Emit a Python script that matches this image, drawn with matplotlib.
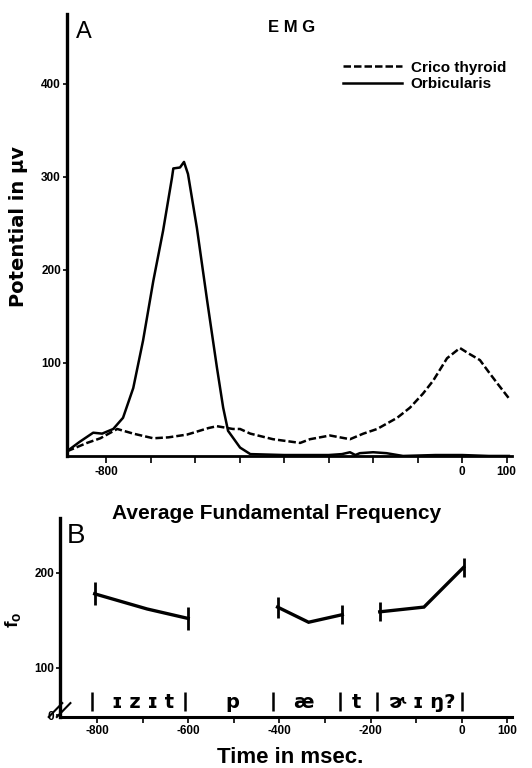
import matplotlib
matplotlib.use("Agg")
import matplotlib.pyplot as plt

plt.rcParams['font.family'] = ['Liberation Sans', 'DejaVu Sans']

# Panel A: EMG (time in msec, potential in microvolts)
crico_t = [-888, -843, -813, -775, -739, -694, -660, -618, -604, -570, -551, -515, -499, -476, -425,
           -364, -342, -297, -252, -222, -191, -146, -117, -88, -65, -34, -5, 15, 33, 40, 60, 79, 105]
crico_v = [5, 14, 19, 29, 24, 19, 20, 23, 25, 30, 32, 29, 29, 24, 18,
           14, 18, 22, 18, 24, 29, 41, 52, 67, 81, 105, 116, 110, 105, 103, 90, 78, 62]

orb_t = [-888, -860, -829, -809, -784, -762, -739, -717, -694, -672, -652, -649, -634, -625, -616,
         -596, -573, -551, -537, -526, -499, -476, -400, -300, -270, -252, -240, -230, -200, -170,
         -133, -60, 0, 60, 105]
orb_v = [5, 15, 25, 24, 29, 41, 73, 124, 188, 242, 299, 309, 310, 316, 303,
         245, 167, 95, 52, 27, 9, 2, 1, 1, 2, 4, 1, 3, 4, 3,
         0, 1, 1, 0, 0]

a_xticks = [-800, -700, -600, -500, -400, -300, -200, -100, 0, 100]
a_xlabels = ['-800', '', '', '', '', '', '', '', '0', '100']
a_yticks = [100, 200, 300, 400]

# Panel B: average fundamental frequency, three voiced stretches
f0_t = [[-805, -690, -600], [-404, -336, -262], [-180, -83, 4]]
f0_v = [[178, 162, 152], [164, 148, 156], [159, 164, 206]]
f0_err = [[12, 12], [11, 10], [10, 10]]

b_xticks = [-800, -700, -600, -500, -400, -300, -200, -100, 0, 100]
b_xlabels = ['-800', '', '-600', '', '-400', '', '-200', '', '0', '100']
b_yticks = [50, 100, 200]
b_ylabels = ['0', '100', '200']

seg_bounds = [-811, -607, -414, -267, -186, 0]
seg_labels = ['ɪ z ɪ t', 'p', 'æ', 't', 'ɚ ɪ ŋ?']
seg_pos = [-699, -504, -348, -230, -87]

fig = plt.figure(figsize=(5.32, 7.68), dpi=100)

# ---- Panel A
ax = fig.add_axes([0.125, 0.4063, 0.8374, 0.5755])
ax.plot(crico_t, crico_v, color='black', lw=1.8, ls=(0, (3, 1.2)), label='Crico thyroid')
ax.plot(orb_t, orb_v, color='black', lw=1.8, label='Orbicularis')
ax.set_xlim(-889, 112)
ax.set_ylim(0, 475)
for s in ['top', 'right']:
    ax.spines[s].set_visible(False)
ax.spines['left'].set_linewidth(2.4)
ax.spines['bottom'].set_linewidth(2.0)
ax.set_xticks(a_xticks)
ax.set_xticklabels(a_xlabels, fontsize=8.5, fontweight='bold')
ax.set_yticks(a_yticks)
ax.set_yticklabels([str(v) for v in a_yticks], fontsize=8.5, fontweight='bold')
ax.tick_params(axis='x', direction='out', length=5, width=1.2, pad=2)
ax.tick_params(axis='y', direction='out', length=3, width=1.2, pad=1)
ax.text(0.021, 0.985, 'A', transform=ax.transAxes, fontsize=17, va='top', ha='left')
ax.text(0.506, 0.97, 'E M G', transform=ax.transAxes, fontsize=12, fontweight='bold',
        va='center', ha='center')
ax.set_ylabel('Potential in μv', fontsize=14, fontweight='bold', family=['DejaVu Sans'])
ax.yaxis.set_label_coords(-0.086, 0.52)
ax.legend(loc='upper left', bbox_to_anchor=(0.62, 0.894), frameon=False,
          prop={'weight': 'bold', 'size': 11}, handlelength=3.9, handletextpad=0.55,
          labelspacing=0.15, borderpad=0, borderaxespad=0)

# ---- Panel B
bx = fig.add_axes([0.1128, 0.0664, 0.8496, 0.2591])
for t, v, e in zip(f0_t, f0_v, f0_err):
    bx.plot(t, v, color='black', lw=2.4, solid_joinstyle='miter')
    bx.vlines([t[0], t[-1]], [v[0] - e[0], v[-1] - e[1]], [v[0] + e[0], v[-1] + e[1]],
              color='black', lw=2.0)
bx.vlines(seg_bounds, 54, 74, color='black', lw=1.8)
for lab, p in zip(seg_labels, seg_pos):
    bx.text(p, 63, lab, fontsize=14, fontweight='bold', ha='center', va='center',
            family=['DejaVu Sans'])
bx.set_xlim(-881, 110)
bx.set_ylim(48, 258)
for s in ['top', 'right']:
    bx.spines[s].set_visible(False)
bx.spines['left'].set_linewidth(2.4)
bx.spines['bottom'].set_linewidth(2.2)
bx.set_xticks(b_xticks)
bx.set_xticklabels(b_xlabels, fontsize=8.5, fontweight='bold')
bx.set_yticks(b_yticks)
bx.set_yticklabels(b_ylabels, fontsize=8.5, fontweight='bold')
bx.tick_params(axis='x', direction='out', length=4, width=1.2, pad=2)
bx.tick_params(axis='y', direction='out', length=3, width=1.2, pad=1)
bx.text(0.015, 0.975, 'B', transform=bx.transAxes, fontsize=20, va='top', ha='left')
bx.text(0.48, 1.025, 'Average Fundamental Frequency', transform=bx.transAxes, fontsize=15,
        fontweight='bold', va='center', ha='center')
bx.set_ylabel('f$_\\mathregular{o}$', fontsize=14, fontweight='bold')
bx.yaxis.set_label_coords(-0.08, 0.49)
bx.set_xlabel('Time in msec.', fontsize=16, fontweight='bold')
bx.xaxis.set_label_coords(0.51, -0.15)
# axis break marks
for dx in [0.0, 0.018]:
    bx.plot([-0.025 + dx, 0.005 + dx], [0.0, 0.07], transform=bx.transAxes, color='black',
            lw=1.5, clip_on=False)

fig.savefig('out.png', dpi=100)
